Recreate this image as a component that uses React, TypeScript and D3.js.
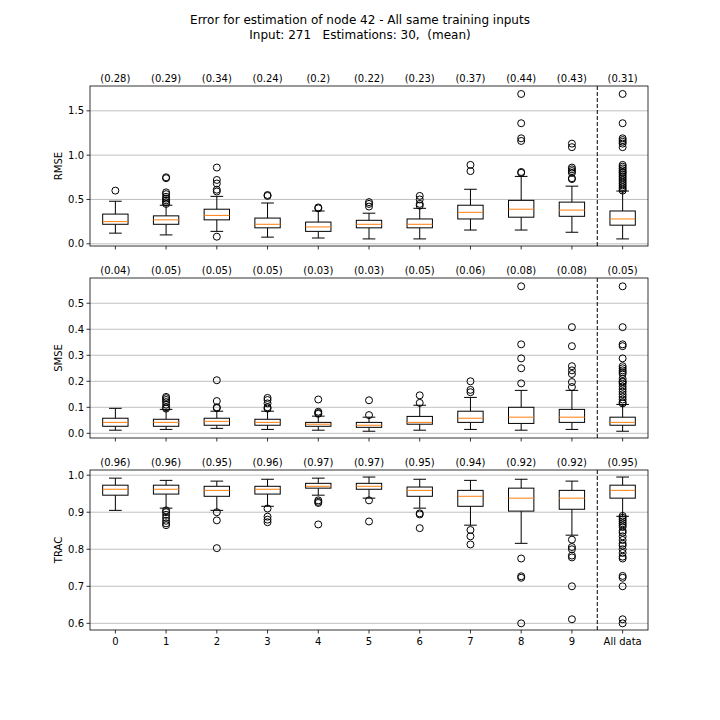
import * as d3 from "d3";

const categories = ["0", "1", "2", "3", "4", "5", "6", "7", "8", "9", "All data"];

// [whiskerLow, q1, median, q3, whiskerHigh]
const rmseBoxes = [
  [0.12, 0.22, 0.25, 0.335, 0.48],
  [0.1, 0.22, 0.27, 0.315, 0.435],
  [0.14, 0.27, 0.32, 0.39, 0.535],
  [0.075, 0.18, 0.22, 0.29, 0.46],
  [0.065, 0.14, 0.19, 0.245, 0.37],
  [0.055, 0.18, 0.22, 0.265, 0.345],
  [0.055, 0.18, 0.22, 0.28, 0.4],
  [0.155, 0.28, 0.355, 0.435, 0.615],
  [0.155, 0.3, 0.39, 0.49, 0.76],
  [0.13, 0.31, 0.38, 0.47, 0.65],
  [0.055, 0.21, 0.28, 0.37, 0.595],
];
const rmseOutliers = [
  [0.6],
  [0.74, 0.75, 0.58, 0.56, 0.53, 0.51, 0.49, 0.47, 0.45],
  [0.86, 0.72, 0.68, 0.61, 0.59, 0.08],
  [0.55, 0.54],
  [0.41, 0.4],
  [0.47, 0.45, 0.42],
  [0.54, 0.5, 0.45, 0.43],
  [0.89, 0.82],
  [1.69, 1.36, 1.19, 1.16, 0.81, 0.8],
  [1.13, 1.09, 0.86, 0.84, 0.82, 0.8, 0.74, 0.73],
  [1.69, 1.36, 1.19, 1.17, 1.15, 1.13, 1.09, 0.89, 0.87, 0.85, 0.83, 0.81, 0.8, 0.78, 0.76, 0.74, 0.72, 0.7, 0.68, 0.66, 0.64, 0.62, 0.6],
];
const rmseMeans = ["0.28", "0.29", "0.34", "0.24", "0.2", "0.22", "0.23", "0.37", "0.44", "0.43", "0.31"];

const smseBoxes = [
  [0.012, 0.027, 0.042, 0.058, 0.096],
  [0.015, 0.027, 0.042, 0.054, 0.092],
  [0.019, 0.031, 0.046, 0.058, 0.085],
  [0.015, 0.031, 0.042, 0.054, 0.085],
  [0.012, 0.027, 0.035, 0.042, 0.066],
  [0.008, 0.023, 0.031, 0.042, 0.062],
  [0.012, 0.035, 0.042, 0.065, 0.108],
  [0.015, 0.042, 0.058, 0.085, 0.138],
  [0.012, 0.038, 0.062, 0.1, 0.165],
  [0.015, 0.042, 0.062, 0.092, 0.165],
  [0.008, 0.031, 0.042, 0.062, 0.111],
];
const smseOutliers = [
  [],
  [0.14, 0.135, 0.128, 0.12, 0.11, 0.1, 0.095],
  [0.204, 0.124, 0.1, 0.097],
  [0.136, 0.128, 0.115, 0.1, 0.095],
  [0.13, 0.083, 0.078, 0.075],
  [0.127, 0.07],
  [0.146, 0.117],
  [0.2, 0.167, 0.158],
  [0.565, 0.342, 0.288, 0.25, 0.192],
  [0.408, 0.335, 0.258, 0.242, 0.228, 0.197, 0.178],
  [0.565, 0.408, 0.342, 0.335, 0.288, 0.258, 0.25, 0.242, 0.235, 0.228, 0.21, 0.2, 0.197, 0.19, 0.18, 0.17, 0.16, 0.15, 0.14, 0.13, 0.12, 0.115],
];
const smseMeans = ["0.04", "0.05", "0.05", "0.05", "0.03", "0.03", "0.05", "0.06", "0.08", "0.08", "0.05"];

const tracBoxes = [
  [0.905, 0.946, 0.962, 0.973, 0.992],
  [0.911, 0.949, 0.962, 0.973, 0.986],
  [0.905, 0.943, 0.959, 0.97, 0.984],
  [0.916, 0.949, 0.962, 0.97, 0.989],
  [0.946, 0.965, 0.97, 0.978, 0.992],
  [0.938, 0.962, 0.97, 0.978, 0.995],
  [0.911, 0.943, 0.959, 0.968, 0.989],
  [0.865, 0.916, 0.943, 0.959, 0.986],
  [0.816, 0.903, 0.938, 0.965, 0.989],
  [0.838, 0.908, 0.938, 0.959, 0.984],
  [0.889, 0.938, 0.959, 0.973, 0.995],
];
const tracOutliers = [
  [],
  [0.905, 0.9, 0.893, 0.885, 0.877, 0.87, 0.865],
  [0.9, 0.878, 0.803],
  [0.91, 0.888, 0.88, 0.873],
  [0.932, 0.928, 0.925, 0.867],
  [0.932, 0.875],
  [0.897, 0.894, 0.857],
  [0.852, 0.835, 0.813],
  [0.775, 0.727, 0.723, 0.6],
  [0.826, 0.806, 0.8, 0.783, 0.778, 0.7, 0.611],
  [0.89, 0.885, 0.88, 0.875, 0.87, 0.865, 0.86, 0.85, 0.845, 0.835, 0.825, 0.815, 0.81, 0.8, 0.79, 0.78, 0.775, 0.728, 0.723, 0.7, 0.611, 0.6],
];
const tracMeans = ["0.96", "0.96", "0.95", "0.96", "0.97", "0.97", "0.95", "0.94", "0.92", "0.92", "0.95"];

const panels = [
  { label: "RMSE", boxes: rmseBoxes, outliers: rmseOutliers, means: rmseMeans, domain: [-0.025, 1.78], ticks: [0, 0.5, 1, 1.5], top: 86 },
  { label: "SMSE", boxes: smseBoxes, outliers: smseOutliers, means: smseMeans, domain: [-0.018, 0.597], ticks: [0, 0.1, 0.2, 0.3, 0.4, 0.5], top: 278 },
  { label: "TRAC", boxes: tracBoxes, outliers: tracOutliers, means: tracMeans, domain: [0.582, 1.014], ticks: [0.6, 0.7, 0.8, 0.9, 1.0], top: 470 },
];

const left = 90;
const right = 648;
const panelH = 160;
const font = "DejaVu Sans, sans-serif";

const x = d3.scaleLinear().domain([0.5, 11.5]).range([left, right]);

function Panel({ p, last }) {
  const y = d3.scaleLinear().domain(p.domain).range([p.top + panelH, p.top]);
  const bw = x(1.25) - x(1);
  const cw = x(1.125) - x(1);
  const bottom = p.top + panelH;
  return (
    <g>
      {p.ticks.map((t) => (
        <g key={t}>
          <line x1={left} x2={right} y1={y(t)} y2={y(t)} stroke="#b0b0b0" strokeWidth={0.8} />
          <line x1={left - 3.5} x2={left} y1={y(t)} y2={y(t)} stroke="black" strokeWidth={0.8} />
          <text x={left - 6} y={y(t)} dy="0.35em" textAnchor="end" fontSize={10} fontFamily={font}>
            {d3.format(".1f")(t)}
          </text>
        </g>
      ))}
      <text transform={`translate(62,${p.top + panelH / 2}) rotate(-90)`} textAnchor="middle" fontSize={10} fontFamily={font}>
        {p.label}
      </text>
      {categories.map((c, i) => {
        const cx = x(i + 1);
        const [lo, q1, med, q3, hi] = p.boxes[i];
        return (
          <g key={c}>
            <text x={cx} y={p.top - 4} textAnchor="middle" fontSize={10} fontFamily={font}>
              ({p.means[i]})
            </text>
            <line x1={cx} x2={cx} y1={bottom} y2={bottom + 3.5} stroke="black" strokeWidth={0.8} />
            {last && (
              <text x={cx} y={bottom + 15} textAnchor="middle" fontSize={10} fontFamily={font}>
                {c}
              </text>
            )}
            <line x1={cx} x2={cx} y1={y(lo)} y2={y(q1)} stroke="black" />
            <line x1={cx} x2={cx} y1={y(q3)} y2={y(hi)} stroke="black" />
            <line x1={cx - cw} x2={cx + cw} y1={y(lo)} y2={y(lo)} stroke="black" />
            <line x1={cx - cw} x2={cx + cw} y1={y(hi)} y2={y(hi)} stroke="black" />
            <rect x={cx - bw} y={y(q3)} width={bw * 2} height={y(q1) - y(q3)} fill="white" stroke="black" />
            <line x1={cx - bw} x2={cx + bw} y1={y(med)} y2={y(med)} stroke="#ff7f0e" />
            {p.outliers[i].map((o, j) => (
              <circle key={j} cx={cx} cy={y(o)} r={3.5} fill="none" stroke="black" />
            ))}
          </g>
        );
      })}
      <line x1={x(10.5)} x2={x(10.5)} y1={p.top} y2={bottom} stroke="black" strokeDasharray="4,2" />
      <rect x={left} y={p.top} width={right - left} height={panelH} fill="none" stroke="black" strokeWidth={0.8} />
    </g>
  );
}

export default function App() {
  return (
    <svg width={720} height={720} style={{ display: "block", margin: -8 }}>
      <rect width={720} height={720} fill="white" />
      <text x={360} y={24} textAnchor="middle" fontSize={12} fontFamily={font}>
        Error for estimation of node 42 - All same training inputs
      </text>
      <text x={360} y={39} textAnchor="middle" fontSize={12} fontFamily={font} style={{ whiteSpace: "pre" }}>
        {"Input: 271   Estimations: 30,  (mean)"}
      </text>
      {panels.map((p, i) => (
        <Panel key={p.label} p={p} last={i === panels.length - 1} />
      ))}
    </svg>
  );
}
